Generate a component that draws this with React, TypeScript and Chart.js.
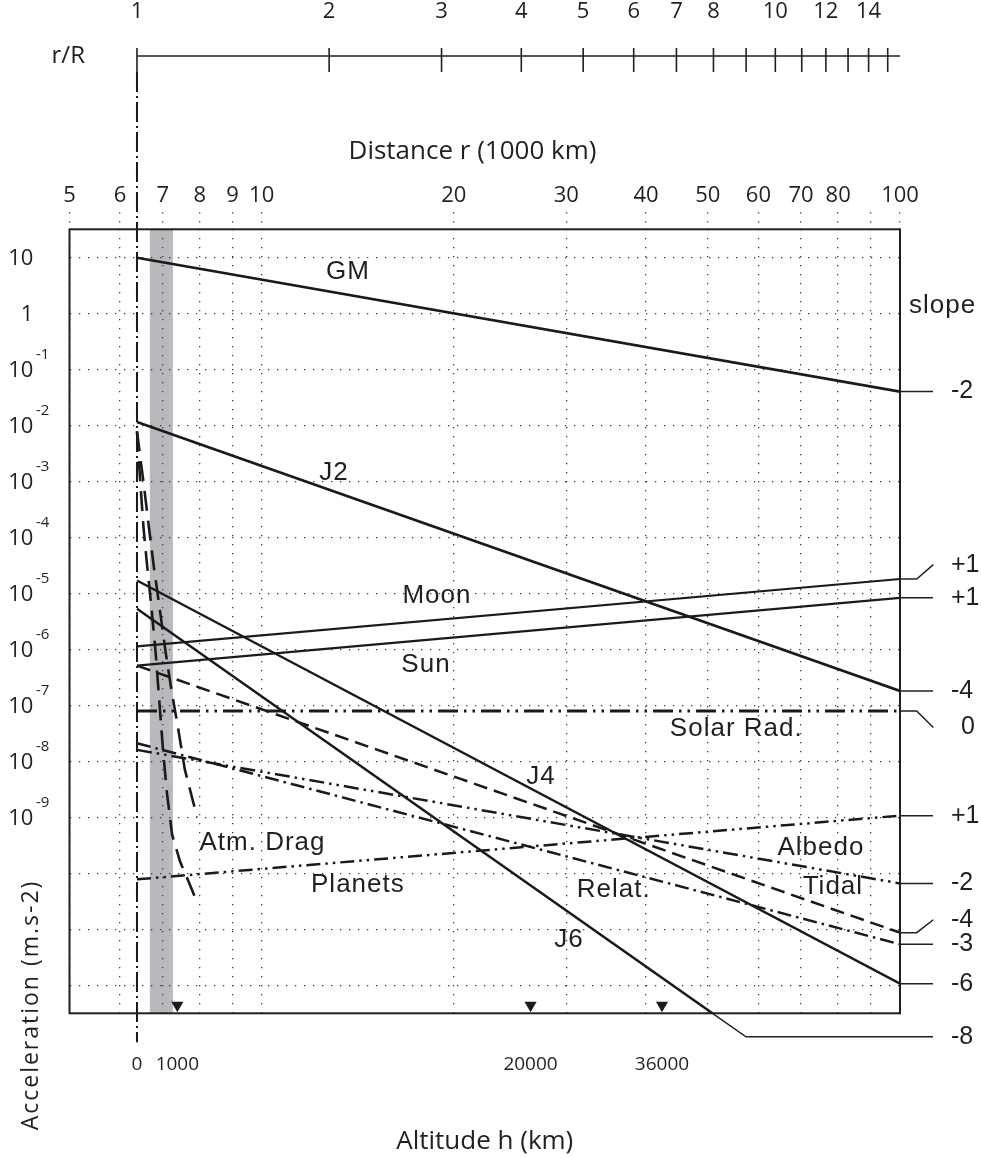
import { useEffect, useRef } from 'react';
import { Chart, registerables } from 'chart.js';

Chart.register(...registerables);

// ---------- data (distance r in 1000 km, acceleration in m.s-2) ----------
const R_EARTH = 6.378;
const R_MAX = 100;

const seriesNames = ['GM', 'J2', 'Moon', 'Sun', 'J4', 'J6', 'Solar Rad.', 'Tidal', 'Relat.', 'Albedo', 'Planets'];
const seriesStart = [9.8, 1.15e-2, 1.13e-6, 5.1e-7, 1.7e-5, 5.3e-6, 7.9e-8, 5.1e-7, 2.1e-8, 1.6e-8, 7.8e-11];
const seriesEnd = [0.04, 1.8e-7, 1.8e-5, 8.3e-6, 1.07e-12, 1.4e-15, 7.9e-8, 8.7e-12, 5.4e-12, 6.6e-11, 1.07e-9];
const slopeLabels = ['-2', '-4', '+1', '+1', '-6', '-8', '0', '-4', '-3', '-2', '+1'];
const slopeLabelLevels = [0.04, 1.8e-7, 3.25e-5, 8.3e-6, 1.07e-12, 1.2e-13, 4.0e-8, 1.48e-11, 5.4e-12, 6.6e-11, 1.07e-9];
const labelR = [13.65, 12.98, 18.82, 18.09, 27.4, 30.3, 55.4, 78.5, 35.6, 75.2, 14.15];
const labelA = [5.56, 1.43e-3, 9.1e-6, 5.3e-7, 5.3e-9, 6.6e-12, 3.84e-8, 5.7e-11, 5.1e-11, 2.9e-10, 6.3e-11];

const atmDragR1 = [6.378, 6.46, 6.53, 6.62, 6.72, 6.82, 6.91, 7.01, 7.11, 7.24, 7.45, 7.64, 7.95];
const atmDragA1 = [7.8e-3, 8.3e-4, 1.48e-4, 2.9e-5, 5.5e-6, 9.1e-7, 1.26e-7, 1.45e-8, 2.57e-9, 4.9e-10, 1.62e-10, 8.3e-11, 2.75e-11];
const atmDragR2 = [6.378, 6.54, 6.66, 6.78, 6.92, 7.07, 7.22, 7.39, 7.58, 7.92];
const atmDragA2 = [7.8e-3, 8.3e-4, 1.48e-4, 2.9e-5, 5.5e-6, 9.1e-7, 1.9e-7, 4.2e-8, 7.1e-9, 1.02e-9];
const atmDragLabel = { r: 10.03, a: 3.5e-10, text: 'Atm. Drag' };

const distanceTicks = [5, 6, 7, 8, 9, 10, 20, 30, 40, 50, 60, 70, 80, 90, 100];
const distanceLabeled = [5, 6, 7, 8, 9, 10, 20, 30, 40, 50, 60, 70, 80, 100];
const rRatioTicks = [1, 2, 3, 4, 5, 6, 7, 8, 9, 10, 11, 12, 13, 14, 15];
const rRatioLabeled = [1, 2, 3, 4, 5, 6, 7, 8, 10, 12, 14];
const altitudeTicksKm = [0, 1000, 20000, 36000];
const markerAltitudesKm = [1000, 20000, 36000];
const accelExponents = [1, 0, -1, -2, -3, -4, -5, -6, -7, -8, -9, -10, -11, -12];
const accelLabeledExponents = [1, 0, -1, -2, -3, -4, -5, -6, -7, -8, -9];
const leoBandR = [6.68, 7.26];
const markerLevel = 4.4e-13;
const Y_MIN = 3.1623e-13;
const Y_MAX = 31.623;

// ---------- styles ----------
const INK = '#231f20';
const LINE = '#1a1a1a';
const GRID = '#3a3a3a';
const BAND = '#b9b9bd';
const SANS = '"Open Sans", "Noto Sans", sans-serif';
const HELV = '"Liberation Sans", Arial, sans-serif';
const DOTS = [1.3, 7.7];

const seriesDash: number[][] = [
  [], [], [], [], [], [],
  [20, 6, 2.5, 6, 2.5, 6],
  [14, 7],
  [14, 5, 2.5, 5],
  [15, 5, 2.5, 5, 2.5, 5],
  [14, 5, 2.5, 5, 2.5, 5],
];
const seriesWidth = [2.7, 2.7, 2.2, 2.2, 2.3, 2.5, 3, 2.5, 2.5, 2.5, 2.5];

function drawText(ctx: CanvasRenderingContext2D, s: string, x: number, y: number, font: string,
  align: CanvasTextAlign = 'center', baseline: CanvasTextBaseline = 'middle', spacing = 0) {
  ctx.font = font;
  ctx.textAlign = align;
  ctx.textBaseline = baseline;
  (ctx as any).letterSpacing = spacing + 'px';
  ctx.fillStyle = INK;
  ctx.fillText(s, x, y);
  (ctx as any).letterSpacing = '0px';
}

const annotPlugin = {
  id: 'annot',
  beforeDraw(chart: any) {
    const { ctx, chartArea: a, scales } = chart;
    const x = scales.x;
    const x0 = x.getPixelForValue(leoBandR[0]);
    const x1 = x.getPixelForValue(leoBandR[1]);
    ctx.save();
    ctx.fillStyle = BAND;
    ctx.fillRect(x0, a.top, x1 - x0, a.bottom - a.top);
    ctx.restore();
  },
  beforeDatasetsDraw(chart: any) {
    const { ctx, chartArea: a, scales } = chart;
    const xe = scales.x.getPixelForValue(R_EARTH);
    ctx.save();
    ctx.strokeStyle = LINE;
    ctx.lineWidth = 2;
    ctx.setLineDash([20, 4, 2, 4]);
    ctx.beginPath();
    ctx.moveTo(xe, 72);
    ctx.lineTo(xe, a.bottom + 29);
    ctx.stroke();
    ctx.restore();
  },
  afterDatasetsDraw(chart: any) {
    const { ctx, chartArea: a, scales } = chart;
    const x = scales.x;
    const y = scales.y;
    const xr = scales.xr;
    ctx.save();

    // plot frame
    ctx.strokeStyle = INK;
    ctx.lineWidth = 2;
    ctx.setLineDash([]);
    ctx.strokeRect(a.left, a.top, a.right - a.left, a.bottom - a.top);

    // r/R axis line + ticks
    const axisY = 56;
    ctx.lineWidth = 1.6;
    ctx.beginPath();
    ctx.moveTo(xr.getPixelForValue(1), axisY);
    ctx.lineTo(xr.getPixelForValue(R_MAX / R_EARTH), axisY);
    for (const t of rRatioTicks) {
      const px = xr.getPixelForValue(t);
      ctx.moveTo(px, axisY - 8);
      ctx.lineTo(px, axisY + 16);
    }
    ctx.stroke();
    drawText(ctx, 'r/R', xr.getPixelForValue(1) - 52, axisY, `24px ${SANS}`, 'right');

    // y labels with superscripts
    for (const e of accelLabeledExponents) {
      const py = y.getPixelForValue(Math.pow(10, e));
      if (e === 0) {
        drawText(ctx, '1', a.left - 36.2, py + 1, `22px ${SANS}`, 'right');
      } else {
        drawText(ctx, '10', a.left - 36.2, py + 1, `22px ${SANS}`, 'right');
        if (e !== 1) drawText(ctx, String(e), a.left - 33.5, py - 15, `15px ${SANS}`, 'left');
      }
    }

    // axis titles
    drawText(ctx, 'Distance r (1000 km)', 472.5, 151.7, `26px ${SANS}`);
    ctx.save();
    ctx.translate(31, 1005);
    ctx.rotate(-Math.PI / 2);
    drawText(ctx, 'Acceleration (m.s-2)', 0, 0, `23px ${SANS}`, 'center', 'middle', 2);
    ctx.restore();

    // curve names
    for (let i = 0; i < seriesNames.length; i++) {
      drawText(ctx, seriesNames[i], x.getPixelForValue(labelR[i]), y.getPixelForValue(labelA[i]), `26px ${HELV}`, 'center', 'middle', 1);
    }
    drawText(ctx, atmDragLabel.text, x.getPixelForValue(atmDragLabel.r), y.getPixelForValue(atmDragLabel.a), `26px ${HELV}`, 'center', 'middle', 1);

    // slope column
    drawText(ctx, 'slope', a.right + 9, y.getPixelForValue(1), `26px ${HELV}`, 'left', 'alphabetic', 1);
    ctx.strokeStyle = INK;
    ctx.lineWidth = 1.5;
    for (let i = 0; i < seriesNames.length; i++) {
      const yL = y.getPixelForValue(slopeLabelLevels[i]);
      ctx.beginPath();
      if (seriesNames[i] === 'J6') {
        const p0x = x.getPixelForValue(R_EARTH), p0y = y.getPixelForValue(seriesStart[i]);
        const p1x = x.getPixelForValue(R_MAX), p1y = y.getPixelForValue(seriesEnd[i]);
        const t = (a.bottom - p0y) / (p1y - p0y);
        const t2 = (yL - p0y) / (p1y - p0y);
        ctx.moveTo(p0x + t * (p1x - p0x), a.bottom);
        ctx.lineTo(p0x + t2 * (p1x - p0x), yL);
        ctx.lineTo(a.right + 33, yL);
      } else {
        const yE = y.getPixelForValue(seriesEnd[i]);
        ctx.moveTo(a.right, yE);
        if (Math.abs(yL - yE) < 1.5) {
          ctx.lineTo(a.right + 33, yE);
        } else {
          ctx.lineTo(a.right + 16.7, yE);
          ctx.lineTo(a.right + 33.3, yL);
        }
      }
      ctx.stroke();
      if (slopeLabels[i] === '0') {
        drawText(ctx, slopeLabels[i], a.right + 68, yL, `25px ${HELV}`, 'center');
      } else {
        drawText(ctx, slopeLabels[i], a.right + 51, yL, `25px ${HELV}`, 'left');
      }
    }
    ctx.restore();
  },
};

function buildDatasets() {
  const ds: any[] = [];
  for (let i = 0; i < seriesNames.length; i++) {
    ds.push({
      label: seriesNames[i],
      data: [{ x: R_EARTH, y: seriesStart[i] }, { x: R_MAX, y: seriesEnd[i] }],
      showLine: true,
      borderColor: LINE,
      borderWidth: seriesWidth[i],
      borderDash: seriesDash[i],
      borderCapStyle: 'butt',
      pointRadius: 0,
      xAxisID: 'x',
      yAxisID: 'y',
    });
  }
  ds.push({
    label: 'Atm. Drag (1)',
    data: atmDragR1.map((r, i) => ({ x: r, y: atmDragA1[i] })),
    showLine: true, borderColor: LINE, borderWidth: 2.6, borderDash: [20, 10],
    pointRadius: 0, xAxisID: 'x', yAxisID: 'y',
  });
  ds.push({
    label: 'Atm. Drag (2)',
    data: atmDragR2.map((r, i) => ({ x: r, y: atmDragA2[i] })),
    showLine: true, borderColor: LINE, borderWidth: 2.6, borderDash: [20, 10],
    pointRadius: 0, xAxisID: 'x', yAxisID: 'y',
  });
  ds.push({
    label: 'orbits',
    data: markerAltitudesKm.map((h) => ({ x: R_EARTH + h / 1000, y: markerLevel })),
    showLine: false,
    pointStyle: 'triangle',
    rotation: 180,
    pointRadius: 7,
    backgroundColor: LINE,
    borderWidth: 0,
    xAxisID: 'x',
    yAxisID: 'y',
  });
  return ds;
}

export default function App() {
  const ref = useRef<HTMLCanvasElement>(null);
  useEffect(() => {
    const chart = new Chart(ref.current as HTMLCanvasElement, {
      type: 'scatter',
      data: { datasets: buildDatasets() },
      options: {
        responsive: false,
        animation: false,
        events: [],
        layout: { padding: { left: 0, right: 82, top: 0, bottom: 0 } },
        plugins: { legend: { display: false }, tooltip: { enabled: false }, title: { display: false } },
        scales: {
          x: {
            type: 'logarithmic', position: 'top', min: 5, max: 100, bounds: 'data', weight: 0,
            afterBuildTicks: (s: any) => { s.ticks = distanceTicks.map((v) => ({ value: v })); },
            afterFit: (s: any) => { s.height = 109.3; },
            ticks: {
              autoSkip: false, maxRotation: 0, minRotation: 0, padding: 3.1,
              font: { family: SANS, size: 22 }, color: INK,
              callback: (v: any) => (distanceLabeled.includes(Number(v)) ? String(v) : ''),
            },
            grid: {
              display: true, drawOnChartArea: true, drawTicks: true, tickLength: 17,
              color: GRID, lineWidth: 1.3, tickColor: GRID, tickWidth: 1.3, tickBorderDash: DOTS,
            },
            border: { display: false, dash: DOTS },
          },
          xr: {
            type: 'logarithmic', position: 'top', axis: 'x', min: 5 / R_EARTH, max: R_MAX / R_EARTH, bounds: 'data', weight: 1,
            afterBuildTicks: (s: any) => { s.ticks = rRatioTicks.map((v) => ({ value: v })); },
            afterFit: (s: any) => { s.height = 120; },
            ticks: {
              autoSkip: false, maxRotation: 0, minRotation: 0, padding: 86.8,
              font: { family: SANS, size: 22 }, color: INK,
              callback: (v: any) => (rRatioLabeled.includes(Number(v)) ? String(v) : ''),
            },
            grid: { display: false },
            border: { display: false },
          },
          xb: {
            type: 'logarithmic', position: 'bottom', axis: 'x', min: 5, max: 100, bounds: 'data',
            afterBuildTicks: (s: any) => { s.ticks = altitudeTicksKm.map((h) => ({ value: R_EARTH + h / 1000 })); },
            afterFit: (s: any) => { s.height = 144.7; },
            ticks: {
              autoSkip: false, maxRotation: 0, minRotation: 0, padding: 32,
              font: { family: SANS, size: 19 }, color: INK,
              callback: (_v: any, i: number) => String(altitudeTicksKm[i]),
            },
            grid: { display: false },
            border: { display: false },
            title: {
              display: true, text: 'Altitude h (km)', color: INK,
              font: { family: SANS, size: 26 }, padding: { top: 0, bottom: 0.7 },
            },
          },
          y: {
            type: 'logarithmic', position: 'left', min: Y_MIN, max: Y_MAX, bounds: 'data',
            afterBuildTicks: (s: any) => { s.ticks = accelExponents.map((e) => ({ value: Math.pow(10, e) })); },
            afterFit: (s: any) => { s.width = 69.5; },
            ticks: { display: false },
            grid: { display: true, drawTicks: false, color: GRID, lineWidth: 1.3 },
            border: { display: false, dash: DOTS },
          },
        },
      } as any,
      plugins: [annotPlugin as any],
    });
    return () => chart.destroy();
  }, []);
  return (
    <div style={{ position: 'absolute', left: 0, top: 0, width: 982, height: 1158, background: '#fff' }}>
      <canvas ref={ref} width={982} height={1158} style={{ display: 'block', width: 982, height: 1158 }} />
    </div>
  );
}
